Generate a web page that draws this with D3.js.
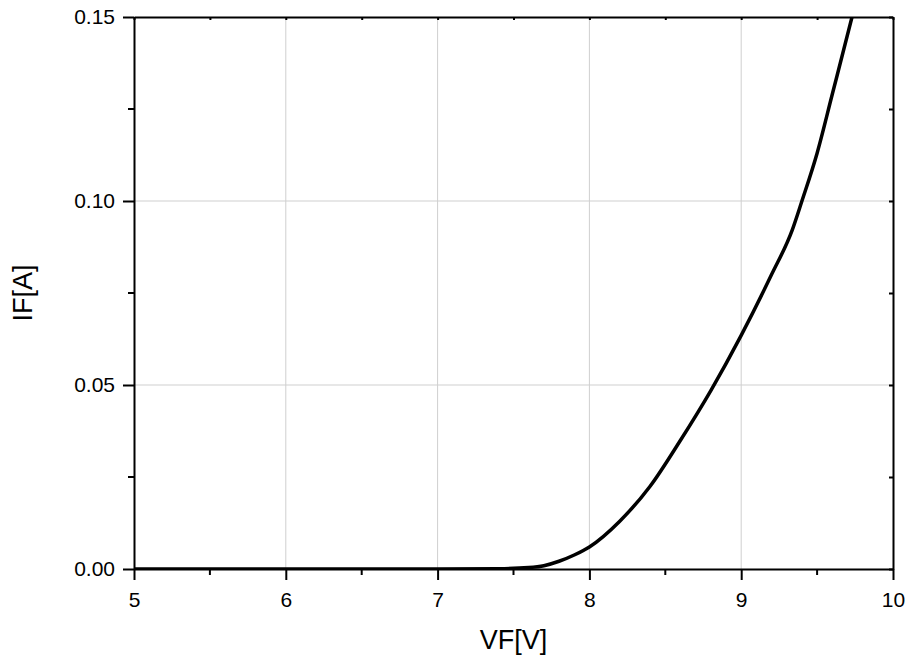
<!DOCTYPE html>
<html>
<head>
<meta charset="utf-8">
<script src="https://cdn.jsdelivr.net/npm/d3@7"></script>
<style>
    body { margin: 0; background: #fff; }
    svg { font-family: "Liberation Sans", Arial, sans-serif; }
    .grid line { stroke: #cfcfcf; stroke-width: 1; }
    .axis text { font-family: "Liberation Sans", Arial, sans-serif; font-size: 21px; fill: #000; }
    .axis .domain, .axis line { stroke: #000; stroke-width: 2; }
    .title { font-size: 27px; fill: #000; }
</style>
</head>
<body>
<div id="chart"></div>
<script>
// forward voltage (V) and current (A)
const vf = [5.0, 7.0, 7.4, 7.6, 7.7, 7.8, 7.9, 8.0, 8.2, 8.4, 8.6, 8.8, 9.0,
            9.2, 9.336, 9.4, 9.5, 9.6, 9.73, 9.76];
const ifA = [0, 0, 0.0001, 0.0004, 0.0009, 0.0021, 0.0038, 0.006, 0.013, 0.0225, 0.035,
             0.0485, 0.0635, 0.080, 0.0921, 0.100, 0.113, 0.129, 0.15, 0.155];
const xTicks = [5, 6, 7, 8, 9, 10];
const yTicks = [0, 0.05, 0.10, 0.15];
const xMinor = [5.5, 6.5, 7.5, 8.5, 9.5];
const yMinor = [0.025, 0.075, 0.125];

const margin = {t: 17, l: 134, r: 12, b: 89};
const W = 905, H = 658;
const width = W - margin.l - margin.r;
const height = H - margin.t - margin.b;

const svg = d3.select("#chart").append("svg").attr("width", W).attr("height", H);
const g = svg.append("g").attr("transform", `translate(${margin.l}, ${margin.t})`);

const x = d3.scaleLinear().domain([5, 10]).range([0, width]);
const y = d3.scaleLinear().domain([0, 0.15]).range([height, 0]);

// grid
const grid = g.append("g").attr("class", "grid");
grid.selectAll(".gx").data(xTicks.slice(1, -1)).join("line")
    .attr("x1", d => x(d)).attr("x2", d => x(d)).attr("y1", 0).attr("y2", height);
grid.selectAll(".gy").data(yTicks.slice(1, -1)).join("line")
    .attr("y1", d => y(d)).attr("y2", d => y(d)).attr("x1", 0).attr("x2", width);

// curve
g.append("clipPath").attr("id", "clip").append("rect")
    .attr("width", width).attr("height", height);
const pts = vf.map((v, i) => ({v: v, i: ifA[i]}));
const line = d3.line().x(d => x(d.v)).y(d => y(d.i)).curve(d3.curveMonotoneX);
g.append("path").datum(pts)
    .attr("clip-path", "url(#clip)")
    .attr("fill", "none").attr("stroke", "#000").attr("stroke-width", 3.5)
    .attr("d", line);

// axes
const fmtY = d3.format(".2f");
const axB = g.append("g").attr("class", "axis").attr("transform", `translate(0, ${height})`)
    .call(d3.axisBottom(x).tickValues(xTicks).tickFormat(d3.format("d")).tickSize(11).tickPadding(12).tickSizeOuter(0));
axB.selectAll(".minor").data(xMinor).join("line").attr("class", "minor")
    .attr("x1", d => x(d)).attr("x2", d => x(d)).attr("y1", 0).attr("y2", 6);

const axL = g.append("g").attr("class", "axis")
    .call(d3.axisLeft(y).tickValues(yTicks).tickFormat(fmtY).tickSize(11).tickPadding(8).tickSizeOuter(0));
axL.selectAll(".minor").data(yMinor).join("line").attr("class", "minor")
    .attr("y1", d => y(d)).attr("y2", d => y(d)).attr("x1", 0).attr("x2", -6);

const axT = g.append("g").attr("class", "axis")
    .call(d3.axisTop(x).tickValues(xTicks.concat(xMinor)).tickFormat("").tickSize(-3).tickSizeOuter(0));
const axR = g.append("g").attr("class", "axis").attr("transform", `translate(${width}, 0)`)
    .call(d3.axisRight(y).tickValues(yTicks.concat(yMinor)).tickFormat("").tickSize(-4).tickSizeOuter(0));

// titles
svg.append("text").attr("class", "title")
    .attr("x", margin.l + width / 2).attr("y", 649)
    .attr("text-anchor", "middle").text("VF[V]");
svg.append("text").attr("class", "title")
    .attr("transform", `translate(32, ${margin.t + height / 2}) rotate(-90)`)
    .attr("text-anchor", "middle").text("IF[A]");
</script>
</body>
</html>
